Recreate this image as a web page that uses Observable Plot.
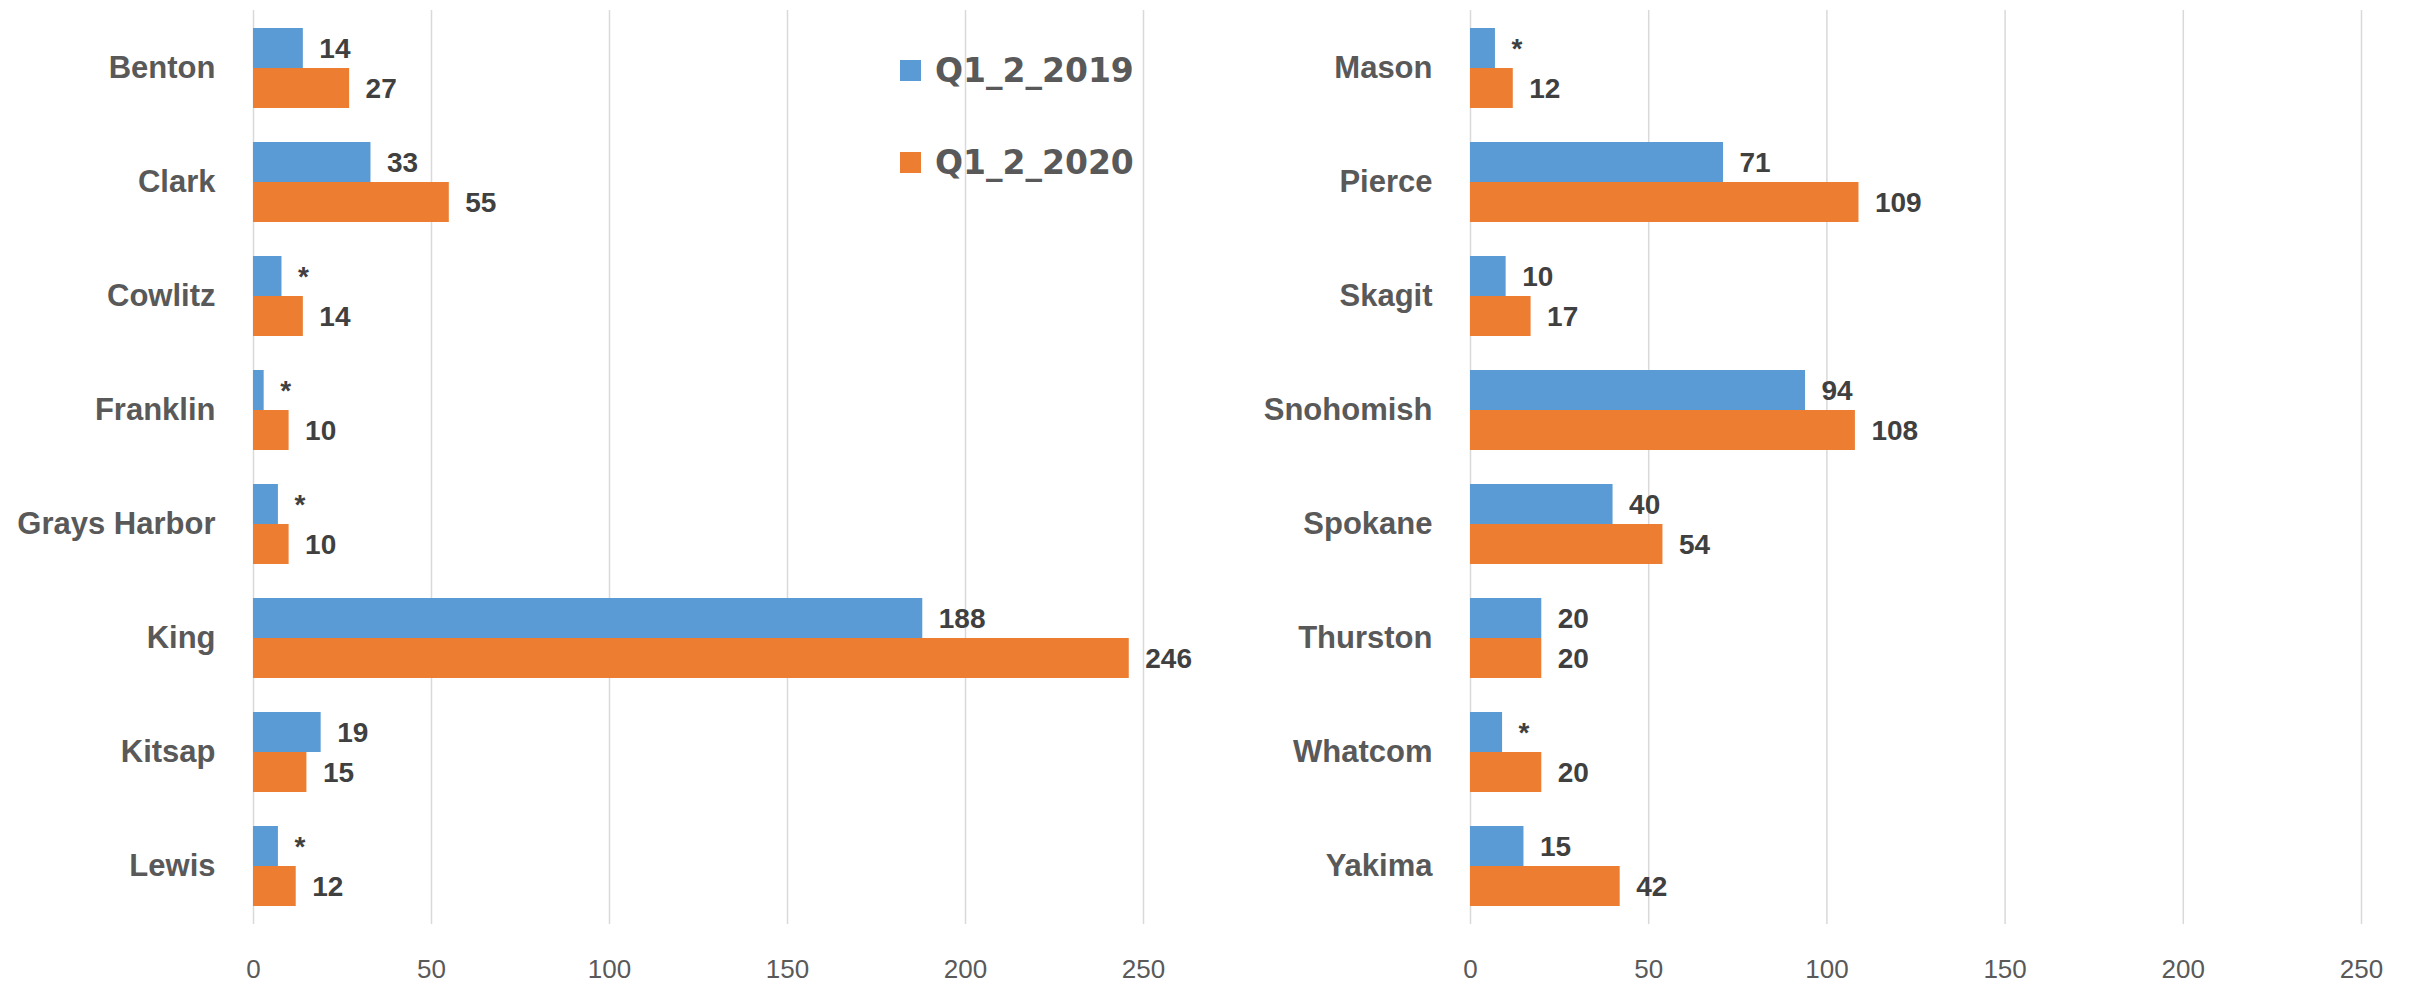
<!DOCTYPE html>
<html>
<head>
<meta charset="utf-8">
<script src="https://cdn.jsdelivr.net/npm/d3@7"></script>
<script src="https://cdn.jsdelivr.net/npm/@observablehq/plot@0.6"></script>
<style>
  html, body { margin: 0; padding: 0; background: #ffffff; }
  #wrap { position: relative; width: 2410px; height: 982px; display: flex; }
  #legend { position: absolute; left: 900px; top: 0; font-family: "DejaVu Sans", sans-serif; font-weight: bold; font-size: 33px; color: #595959; }
  .item { position: absolute; display: flex; align-items: center; white-space: nowrap; height: 40px; }
  .sw { width: 21px; height: 21px; margin-right: 14px; flex: none; }
</style>
</head>
<body>
<div id="wrap">
  <div id="left"></div>
  <div id="right"></div>
  <div id="legend"></div>
</div>
<script>
const seriesNames = ["Q1_2_2019", "Q1_2_2020"];
const seriesColors = ["#5B9BD5", "#ED7D31"];
const xTicks = [0, 50, 100, 150, 200, 250];

const leftCounties = ["Benton", "Clark", "Cowlitz", "Franklin", "Grays Harbor", "King", "Kitsap", "Lewis"];
const left2019 = [14, 33, 8, 3, 7, 188, 19, 7];
const left2020 = [27, 55, 14, 10, 10, 246, 15, 12];
const left2019Labels = ["14", "33", "*", "*", "*", "188", "19", "*"];
const left2020Labels = ["27", "55", "14", "10", "10", "246", "15", "12"];

const rightCounties = ["Mason", "Pierce", "Skagit", "Snohomish", "Spokane", "Thurston", "Whatcom", "Yakima"];
const right2019 = [7, 71, 10, 94, 40, 20, 9, 15];
const right2020 = [12, 109, 17, 108, 54, 20, 20, 42];
const right2019Labels = ["*", "71", "10", "94", "40", "20", "*", "15"];
const right2020Labels = ["12", "109", "17", "108", "54", "20", "20", "42"];

const FONT = "'Liberation Sans', Arial, sans-serif";

function panel(counties, v19, v20, l19, l20, ml, mr) {
  const d19 = counties.map((c, i) => ({county: c, value: v19[i], label: l19[i]}));
  const d20 = counties.map((c, i) => ({county: c, value: v20[i], label: l20[i]}));
  const svg = Plot.plot({
    width: 1205,
    height: 982,
    marginTop: 10,
    marginBottom: 58,
    marginLeft: ml,
    marginRight: mr,
    style: {fontFamily: FONT, background: "#ffffff", color: "#595959", overflow: "visible"},
    x: {domain: [0, 250], label: null},
    y: {domain: counties, paddingInner: 0.3, paddingOuter: 0.15, label: null},
    marks: [
      Plot.gridX(xTicks, {stroke: "#d9d9d9", strokeOpacity: 1, strokeWidth: 1.5}),
      Plot.barX(d19, {x: "value", y: "county", fill: seriesColors[0], insetBottom: 40}),
      Plot.barX(d20, {x: "value", y: "county", fill: seriesColors[1], insetTop: 40}),
      Plot.text(d19, {x: "value", y: "county", text: "label", dy: -19, dx: 16, textAnchor: "start",
        fill: "#404040", fontSize: 28, fontWeight: "bold", fontFamily: FONT}),
      Plot.text(d20, {x: "value", y: "county", text: "label", dy: 21, dx: 16, textAnchor: "start",
        fill: "#404040", fontSize: 28, fontWeight: "bold", fontFamily: FONT}),
      Plot.axisX({ticks: xTicks, tickSize: 0, tickPadding: 35, fontSize: 26, tickFormat: d => String(d), fill: "#595959"}),
      Plot.axisY({tickSize: 0, tickPadding: 38, fontSize: 31, fontWeight: "bold", fill: "#595959"})
    ]
  });
  return svg;
}

document.getElementById("left").appendChild(
  panel(leftCounties, left2019, left2020, left2019Labels, left2020Labels, 253, 62));
document.getElementById("right").appendChild(
  panel(rightCounties, right2019, right2020, right2019Labels, right2020Labels, 265, 49));

const legend = document.getElementById("legend");
const legendTops = [50, 142];
seriesNames.forEach((name, i) => {
  const item = document.createElement("div");
  item.className = "item";
  item.style.top = legendTops[i] + "px";
  const sw = document.createElement("div");
  sw.className = "sw";
  sw.style.background = seriesColors[i];
  const tx = document.createElement("span");
  tx.textContent = name;
  item.appendChild(sw);
  item.appendChild(tx);
  legend.appendChild(item);
});
</script>
</body>
</html>
